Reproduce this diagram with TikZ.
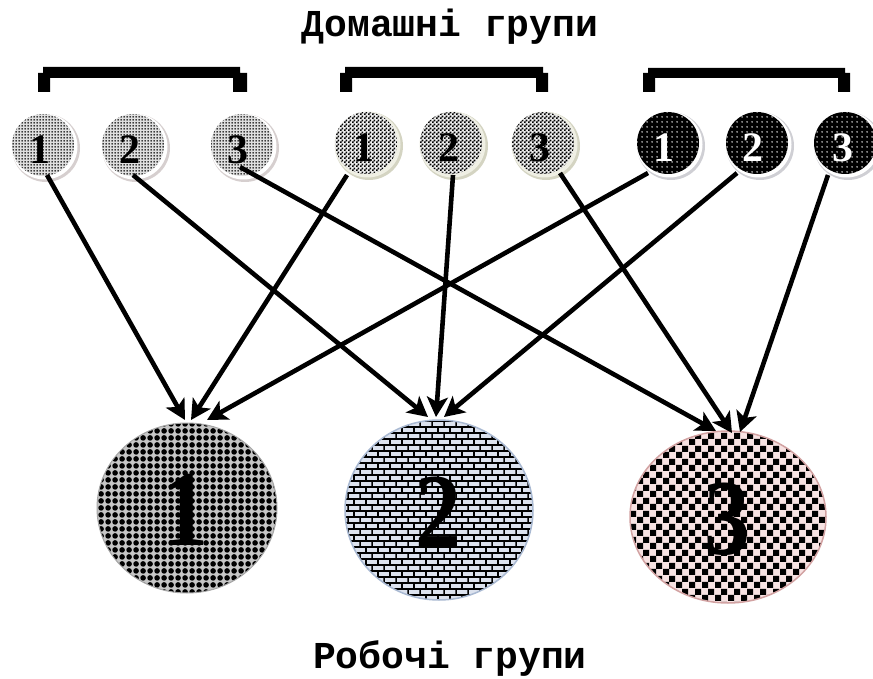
\documentclass[tikz,border=0pt]{standalone}
\usepackage{fontspec}
\setmainfont{Liberation Serif}
\newfontfamily\monofont{Liberation Mono}
\usetikzlibrary{patterns,arrows.meta,shapes.geometric}
\pgfdeclarepatternformonly{myfinedots}{\pgfqpoint{0pt}{0pt}}{\pgfqpoint{3pt}{3pt}}{\pgfqpoint{3pt}{3pt}}{\pgfpathcircle{\pgfqpoint{1.5pt}{1.5pt}}{1.1pt}\pgfusepath{fill}}
\pgfdeclarepatternformonly{mywhitedots}{\pgfqpoint{0pt}{0pt}}{\pgfqpoint{5pt}{5pt}}{\pgfqpoint{5pt}{5pt}}{\pgfpathcircle{\pgfqpoint{2.5pt}{2.5pt}}{0.9pt}\pgfusepath{fill}}
\pgfdeclarepatternformonly{mysmallchk}{\pgfqpoint{0pt}{0pt}}{\pgfqpoint{4pt}{4pt}}{\pgfqpoint{4pt}{4pt}}{\pgfpathrectangle{\pgfqpoint{0pt}{0pt}}{\pgfqpoint{2pt}{2pt}}\pgfpathrectangle{\pgfqpoint{2pt}{2pt}}{\pgfqpoint{2pt}{2pt}}\pgfusepath{fill}}
\pgfdeclarepatternformonly{myballs}{\pgfqpoint{0pt}{0pt}}{\pgfqpoint{7pt}{7pt}}{\pgfqpoint{7pt}{7pt}}{\pgfpathcircle{\pgfqpoint{3.5pt}{3.5pt}}{3.2pt}\pgfusepath{fill}}
\pgfdeclarepatternformonly{mybricks}{\pgfqpoint{-0.6pt}{-0.6pt}}{\pgfqpoint{12.6pt}{12.6pt}}{\pgfqpoint{12pt}{12pt}}{\pgfsetlinewidth{1.2pt}\pgfpathmoveto{\pgfqpoint{0pt}{0pt}}\pgfpathlineto{\pgfqpoint{12pt}{0pt}}\pgfpathmoveto{\pgfqpoint{0pt}{6pt}}\pgfpathlineto{\pgfqpoint{12pt}{6pt}}\pgfpathmoveto{\pgfqpoint{0pt}{0pt}}\pgfpathlineto{\pgfqpoint{0pt}{6pt}}\pgfpathmoveto{\pgfqpoint{6pt}{6pt}}\pgfpathlineto{\pgfqpoint{6pt}{12pt}}\pgfusepath{stroke}}
\pgfdeclarepatternformonly{mybigchk}{\pgfqpoint{0pt}{0pt}}{\pgfqpoint{13pt}{13pt}}{\pgfqpoint{13pt}{13pt}}{\pgfpathrectangle{\pgfqpoint{0pt}{0pt}}{\pgfqpoint{6.5pt}{6.5pt}}\pgfpathrectangle{\pgfqpoint{6.5pt}{6.5pt}}{\pgfqpoint{6.5pt}{6.5pt}}\pgfusepath{fill}}
\definecolor{rimA}{HTML}{D6CFCF}
\definecolor{rimB}{HTML}{D4D4C2}
\definecolor{ringB}{HTML}{EFEFE4}
\definecolor{rimC}{HTML}{CFCFD4}
\definecolor{brickbg}{HTML}{DCE2EE}
\definecolor{brickedge}{HTML}{A9B9D2}
\definecolor{chkbg}{HTML}{F7E2E2}
\definecolor{chkedge}{HTML}{D2A2A2}
\newcommand\mysmall[7]{%
  \fill[#6] (#2)++(3,3) circle (34);
  \fill[#7] (#2)++(1.5,1.5) circle (33);
  \fill[#3] (#2) circle (31);
  \fill[pattern=#4, pattern color=#5] (#2) circle (31);
  \node[smallnode] (#1) at (#2) {};
}
\begin{document}
\begin{tikzpicture}[x=1pt,y=-1pt,
  smallnode/.style={circle, minimum size=62pt, inner sep=0pt},
  bignode/.style={ellipse, inner sep=0pt},
  sdigit/.style={font=\bfseries\fontsize{42}{42}\selectfont, inner sep=0pt},
  bdigit/.style={font=\bfseries\fontsize{108}{108}\selectfont, inner sep=0pt, xscale=0.85},
  title/.style={font=\monofont\bfseries\fontsize{38}{40}\selectfont, inner sep=0pt},
  brack/.style={fill=black},
  arr/.style={line width=4.6pt, -{Stealth[length=20pt,width=21pt,inset=5pt]}}]
\useasboundingbox (0,0) rectangle (873,679);
\fill[white] (0,0) rectangle (873,679);

% titles
\node[title] (top) at (450,27) {Домашні групи};
\node[title] (bottom) at (450,659) {Робочі групи};

% brackets
\fill[brack] (43,67) rectangle (240,78) (38,73) rectangle (50,92) (233,73) rectangle (247,92);
\fill[brack] (345,67) rectangle (543,78) (340,73) rectangle (352,92) (536,73) rectangle (548,92);
\fill[brack] (648,68) rectangle (845,78) (643,73) rectangle (655,92) (838,73) rectangle (850,92);

% small circles
\mysmall{s11}{43,145}{gray!25}{myfinedots}{black}{rimA}{white}
\mysmall{s12}{133,145}{gray!25}{myfinedots}{black}{rimA}{white}
\mysmall{s13}{242,145}{gray!25}{myfinedots}{black}{rimA}{white}
\mysmall{s21}{366,143}{gray!15}{mysmallchk}{black}{rimB}{ringB}
\mysmall{s22}{451,143}{gray!15}{mysmallchk}{black}{rimB}{ringB}
\mysmall{s23}{543,143}{gray!15}{mysmallchk}{black}{rimB}{ringB}
\mysmall{s31}{668,143}{black}{mywhitedots}{white}{rimC}{white}
\mysmall{s32}{757,143}{black}{mywhitedots}{white}{rimC}{white}
\mysmall{s33}{845,143}{black}{mywhitedots}{white}{rimC}{white}

\node[sdigit] (d11) at (40,150) {1};
\node[sdigit] (d12) at (130,150) {2};
\node[sdigit] (d13) at (238,150) {3};
\node[sdigit] (d21) at (364,148) {1};
\node[sdigit] (d22) at (449,148) {2};
\node[sdigit] (d23) at (540,148) {3};
\node[sdigit, text=white] (d31) at (664,148) {1};
\node[sdigit, text=white] (d32) at (753,148) {2};
\node[sdigit, text=white] (d33) at (843,148) {3};

% big circles
\fill[gray!45] (187,508) ellipse (90 and 85);
\fill[pattern=myballs, pattern color=black] (187,508) ellipse (90 and 85);
\draw[gray!70, line width=1pt] (187,508) ellipse (90 and 85);
\node[bignode, minimum width=180pt, minimum height=170pt] (b1) at (187,508) {};

\fill[brickbg] (439,510) ellipse (94 and 90);
\fill[pattern=mybricks, pattern color=black] (439,510) ellipse (94 and 90);
\draw[brickedge, line width=1.5pt] (439,510) ellipse (94 and 90);
\node[bignode, minimum width=188pt, minimum height=180pt] (b2) at (439,510) {};

\fill[chkbg] (728,517) ellipse (98 and 86);
\fill[pattern=mybigchk, pattern color=black] (728,517) ellipse (98 and 86);
\draw[chkedge, line width=1.5pt] (728,517) ellipse (98 and 86);
\node[bignode, minimum width=196pt, minimum height=172pt] (b3) at (728,517) {};

\node[bdigit] (D1) at (185,510) {1};
\node[bdigit] (D2) at (438,513) {2};
\node[bdigit] (D3) at (727,519) {3};

% connector start and end points
\coordinate (o11) at (47,175);
\coordinate (o12) at (133,175);
\coordinate (o13) at (240,167);
\coordinate (o21) at (347,175);
\coordinate (o22) at (453,175);
\coordinate (o23) at (560,173);
\coordinate (o31) at (648,173);
\coordinate (o32) at (737,173);
\coordinate (o33) at (828,175);

\coordinate (t1a) at (185,420);
\coordinate (t1b) at (191,420);
\coordinate (t1c) at (207,420);
\coordinate (t2a) at (428,417);
\coordinate (t2b) at (436,417);
\coordinate (t2c) at (444,417);
\coordinate (t3a) at (716,431);
\coordinate (t3b) at (732,433);
\coordinate (t3c) at (740,432);

\draw[arr] (o11) -- (t1a);
\draw[arr] (o21) -- (t1b);
\draw[arr] (o31) -- (t1c);
\draw[arr] (o12) -- (t2a);
\draw[arr] (o22) -- (t2b);
\draw[arr] (o32) -- (t2c);
\draw[arr] (o13) -- (t3a);
\draw[arr] (o23) -- (t3b);
\draw[arr] (o33) -- (t3c);
\end{tikzpicture}
\end{document}
